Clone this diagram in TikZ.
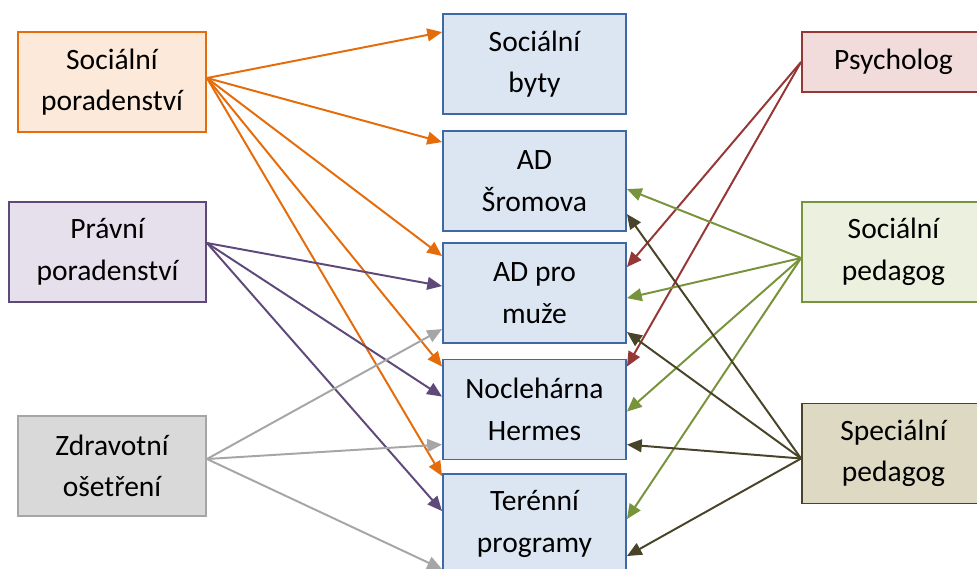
\documentclass[tikz,border=0pt]{standalone}
\usepackage{fontspec}
\setmainfont{Carlito}
\usepackage{tikz}
\usetikzlibrary{calc, arrows.meta}
\definecolor{orline}{HTML}{E46C0A}
\definecolor{orfill}{HTML}{FDE9D9}
\definecolor{puline}{HTML}{5F497A}
\definecolor{pufill}{HTML}{E5E0EC}
\definecolor{grline}{HTML}{A6A6A6}
\definecolor{grfill}{HTML}{D9D9D9}
\definecolor{blline}{HTML}{3F68A6}
\definecolor{blfill}{HTML}{DCE6F2}
\definecolor{reline}{HTML}{953735}
\definecolor{refill}{HTML}{F2DCDB}
\definecolor{gnline}{HTML}{77933C}
\definecolor{gnfill}{HTML}{EBF1DE}
\definecolor{olline}{HTML}{494429}
\definecolor{olfill}{HTML}{DDD9C3}

\begin{document}
\begin{tikzpicture}[x=0.025cm, y=-0.025cm,
    box/.style={draw, line width=1.3pt, align=center, inner sep=2pt,
      font=\fontsize{21}{29.5}\selectfont, minimum height=2.5cm},
    midbox/.style={box, draw=blline, fill=blfill, minimum width=4.575cm},
    arr/.style={-{Triangle[length=0.37cm,width=0.32cm]}, line width=1.4pt}]
    \clip (0,0) rectangle (977,568);
    % left side
    \node[box, draw=orline, fill=orfill, minimum width=4.7cm] (sp) at (112,82) {Sociální\\poradenství};
    \node[box, draw=puline, fill=pufill, minimum width=4.925cm] (pp) at (107.5,252) {Právní\\poradenství};
    \node[box, draw=grline, fill=grfill, minimum width=4.7cm] (zo) at (112,466) {Zdravotní\\ošetření};
    % services in the middle
    \node[midbox] (sb) at (534.5,64) {Sociální\\byty};
    \node[midbox] (ads) at (534.5,181) {AD\\Šromova};
    \node[midbox] (adm) at (534.5,293) {AD pro\\muže};
    \node[midbox] (nh) at (534.5,409.5) {Noclehárna\\Hermes};
    \node[midbox] (tp) at (534.5,524) {Terénní\\programy};
    % right side
    \node[box, draw=reline, fill=refill, minimum width=4.575cm, minimum height=1.5cm] (ps) at (893.5,62) {Psycholog};
    \node[box, draw=gnline, fill=gnfill, minimum width=4.575cm] (sped) at (893.5,252) {Sociální\\pedagog};
    \node[box, draw=olline, fill=olfill, minimum width=4.575cm] (spec) at (893.5,453.5) {Speciální\\pedagog};
    % orange lines
    \draw[arr, orline] ($(sp.east)+(0,-4)$) -- ($(sb.north west)+(0,19)$);
    \draw[arr, orline] ($(sp.east)+(0,-4)$) -- ($(ads.north west)+(0,12)$);
    \draw[arr, orline] ($(sp.east)+(0,-4)$) -- ($(adm.north west)+(0,14)$);
    \draw[arr, orline] ($(sp.east)+(0,-4)$) -- ($(nh.north west)+(0,8)$);
    \draw[arr, orline] ($(sp.east)+(0,-4)$) -- ($(tp.north west)+(0,3)$);
    % purple lines
    \draw[arr, puline] ($(pp.east)+(0,-9)$) -- ($(adm.north west)+(0,44)$);
    \draw[arr, puline] ($(pp.east)+(0,-9)$) -- ($(nh.north west)+(0,38)$);
    \draw[arr, puline] ($(pp.east)+(0,-9)$) -- ($(tp.north west)+(0,38)$);
    % grey lines
    \draw[arr, grline] ($(zo.east)+(0,-7)$) -- ($(adm.north west)+(0,87)$);
    \draw[arr, grline] ($(zo.east)+(0,-7)$) -- ($(nh.north west)+(0,86)$);
    \draw[arr, grline] ($(zo.east)+(0,-7)$) -- ($(tp.north west)+(0,96)$);
    % red lines
    \draw[arr, reline] (ps.west) -- ($(adm.north east)+(0,25)$);
    \draw[arr, reline] (ps.west) -- ($(nh.north east)+(0,8)$);
    % green lines
    \draw[arr, gnline] ($(sped.west)+(0,6)$) -- ($(ads.north east)+(0,59)$);
    \draw[arr, gnline] ($(sped.west)+(0,6)$) -- ($(adm.north east)+(0,56)$);
    \draw[arr, gnline] ($(sped.west)+(0,6)$) -- ($(nh.north east)+(0,53)$);
    \draw[arr, gnline] ($(sped.west)+(0,6)$) -- ($(tp.north east)+(0,46)$);
    % olive lines
    \draw[arr, olline] ($(spec.west)+(0,5)$) -- ($(ads.north east)+(0,84)$);
    \draw[arr, olline] ($(spec.west)+(0,5)$) -- ($(adm.north east)+(0,90)$);
    \draw[arr, olline] ($(spec.west)+(0,5)$) -- ($(nh.north east)+(0,86)$);
    \draw[arr, olline] ($(spec.west)+(0,5)$) -- ($(tp.north east)+(0,83)$);
\end{tikzpicture}
\end{document}
